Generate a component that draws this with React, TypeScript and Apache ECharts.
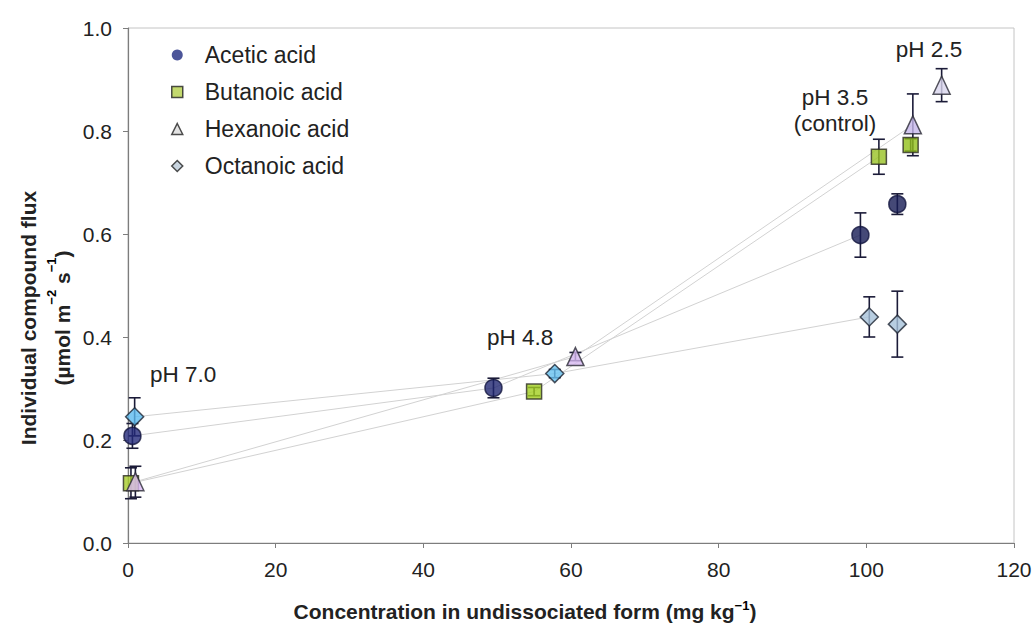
import React, { useEffect, useRef } from "react";
import * as echarts from "echarts";

const FONT = "'Liberation Sans', Arial, Helvetica, sans-serif";
const TEXT = "#222222";

// Measurements in pH order: 7.0, 4.8, 3.5 (control), 2.5
const aceticX = [0.6, 49.5, 99.2, 104.2];
const aceticY = [0.208, 0.301, 0.598, 0.658];
const aceticErr = [0.024, 0.019, 0.043, 0.02];

const butanoicX = [0.4, 55.0, 101.7, 106.0];
const butanoicY = [0.116, 0.294, 0.75, 0.773];
const butanoicErr = [0.03, 0.008, 0.034, 0.012];

const hexanoicX = [1.0, 60.6, 106.3, 110.2];
const hexanoicY = [0.119, 0.362, 0.812, 0.889];
const hexanoicErr = [0.03, 0.008, 0.06, 0.032];

const octanoicX = [0.9, 57.8, 100.4, 104.2];
const octanoicY = [0.245, 0.329, 0.439, 0.425];
const octanoicErr = [0.037, 0.008, 0.039, 0.064];

const acidNames = ["Acetic acid", "Butanoic acid", "Hexanoic acid", "Octanoic acid"];
const phLabels = ["pH 7.0", "pH 4.8", "pH 3.5", "pH 2.5"];

// marker styling per acid (fill per pH level)
const acids = [
  {
    name: acidNames[0], x: aceticX, y: aceticY, err: aceticErr,
    symbol: "circle", size: 17,
    fills: ["#23297a", "#1f2570", "#161b55", "#161b55"], border: "#11143d",
    legend: { color: "#1f2a80", borderColor: "#1f2a80", borderWidth: 0 },
  },
  {
    name: acidNames[1], x: butanoicX, y: butanoicY, err: butanoicErr,
    symbol: "rect", size: 15,
    fills: ["#a8cc2a", "#a3cf1f", "#98c224", "#92c01a"], border: "#2b2b22",
    legend: { color: "#b4cf4a", borderColor: "#222", borderWidth: 1.5 },
  },
  {
    name: acidNames[2], x: hexanoicX, y: hexanoicY, err: hexanoicErr,
    symbol: "triangle", size: [17, 18],
    fills: ["#dab8f2", "#d6b8f0", "#c6b6ea", "#d8d4ec"], border: "#2a2a36",
    legend: { color: "#dcdcdc", borderColor: "#222", borderWidth: 1.5 },
  },
  {
    name: acidNames[3], x: octanoicX, y: octanoicY, err: octanoicErr,
    symbol: "diamond", size: 18,
    fills: ["#5dbcf0", "#68c2f0", "#a6c2da", "#a6c2da"], border: "#1e2633",
    legend: { color: "#bccbd8", borderColor: "#222", borderWidth: 1.5 },
  },
];

export default function App() {
  const ref = useRef<HTMLDivElement>(null);

  useEffect(() => {
    if (!ref.current) return;
    const chart = echarts.init(ref.current, null, { renderer: "svg" });

    const series: any[] = [];

    // connecting lines pH 7.0 -> 4.8 -> 3.5
    acids.forEach((a) => {
      series.push({
        name: a.name + " trend",
        type: "line",
        data: a.x.slice(0, 3).map((v, i) => [v, a.y[i]]),
        showSymbol: false,
        symbol: "none",
        silent: true,
        z: 1,
        lineStyle: { color: "#d2d2d2", width: 1 },
      });
    });

    // error bars
    acids.forEach((a) => {
      series.push({
        name: a.name + " error",
        type: "custom",
        silent: true,
        z: 2,
        encode: { x: 0, y: 1 },
        data: a.x.map((v, i) => [v, a.y[i], a.err[i]]),
        renderItem: (params: any, api: any) => {
          const x = api.value(0);
          const y = api.value(1);
          const e = api.value(2);
          const top = api.coord([x, y + e]);
          const bot = api.coord([x, y - e]);
          const w = 6;
          const style = { stroke: "#1b1b38", lineWidth: 1.6 };
          return {
            type: "group",
            children: [
              { type: "line", shape: { x1: top[0], y1: top[1], x2: bot[0], y2: bot[1] }, style },
              { type: "line", shape: { x1: top[0] - w, y1: top[1], x2: top[0] + w, y2: top[1] }, style },
              { type: "line", shape: { x1: bot[0] - w, y1: bot[1], x2: bot[0] + w, y2: bot[1] }, style },
            ],
          };
        },
      });
    });

    // markers
    acids.forEach((a) => {
      series.push({
        name: a.name,
        type: "scatter",
        symbol: a.symbol,
        symbolSize: a.size,
        z: 3,
        data: a.x.map((v, i) => ({
          value: [v, a.y[i]],
          itemStyle: { color: a.fills[i], borderColor: a.border, borderWidth: 1.5 },
        })),
        itemStyle: { color: a.fills[0], borderColor: a.border, borderWidth: 1.5 },
      });
    });

    const sup = { fontSize: 13, fontWeight: "bold", verticalAlign: "top", fontFamily: FONT, color: TEXT, lineHeight: 14 };
    const annot = { fontFamily: FONT, fontSize: 22.5, fill: TEXT };

    chart.setOption({
      animation: false,
      backgroundColor: "#ffffff",
      grid: {
        left: 128, right: 21, top: 28, bottom: 86,
        show: true, borderColor: "#c4c4c4", borderWidth: 1, backgroundColor: "#ffffff",
      },
      legend: {
        orient: "vertical",
        left: 166,
        top: 38,
        itemWidth: 11,
        itemHeight: 11,
        itemGap: 13,
        selectedMode: false,
        textStyle: { fontFamily: FONT, fontSize: 23, color: TEXT, lineHeight: 24, padding: [0, 0, 0, 17] },
        data: acids.map((a) => ({ name: a.name, icon: a.symbol, itemStyle: a.legend })),
      },
      xAxis: {
        type: "value",
        min: 0,
        max: 120,
        interval: 20,
        splitLine: { show: false },
        axisLine: { lineStyle: { color: "#7d7d7d", width: 1.2 } },
        axisTick: { show: true, length: 5, lineStyle: { color: "#7d7d7d" } },
        axisLabel: { fontFamily: FONT, fontSize: 21, color: TEXT, margin: 16 },
      },
      yAxis: {
        type: "value",
        min: 0,
        max: 1,
        interval: 0.2,
        splitLine: { show: false },
        axisLine: { show: true, lineStyle: { color: "#7d7d7d", width: 1.2 } },
        axisTick: { show: true, length: 5, lineStyle: { color: "#7d7d7d" } },
        axisLabel: {
          fontFamily: FONT, fontSize: 21, color: TEXT, margin: 16,
          formatter: (v: number) => v.toFixed(1),
        },
      },
      graphic: [
        { type: "text", left: 150, top: 363, style: { ...annot, text: phLabels[0] } },
        { type: "text", left: 487, top: 326, style: { ...annot, text: phLabels[1] } },
        {
          type: "text", x: 835, y: 110,
          style: { ...annot, text: phLabels[2] + "\n(control)", align: "center", verticalAlign: "middle", lineHeight: 26 },
        },
        {
          type: "text", x: 929, y: 49,
          style: { ...annot, text: phLabels[3], align: "center", verticalAlign: "middle" },
        },
        {
          type: "text", x: 525, y: 611,
          style: {
            text: "{b|Concentration in undissociated form (mg kg}{s|−1}{b|)}",
            align: "center", verticalAlign: "middle",
            rich: {
              b: { fontFamily: FONT, fontSize: 21, fontWeight: "bold", fill: TEXT, color: TEXT, lineHeight: 24 },
              s: sup,
            },
          },
        },
        {
          type: "text", x: 45, y: 318, rotation: Math.PI / 2,
          style: {
            text: "{b|Individual compound flux}\n{b|(µmol m}{s|−2}{b| s}{s|−1}{b|)}",
            align: "center", verticalAlign: "middle",
            rich: {
              b: { fontFamily: FONT, fontSize: 21, fontWeight: "bold", fill: TEXT, color: TEXT, lineHeight: 34, align: "center" },
              s: sup,
            },
          },
        },
      ],
      series,
    });

    return () => chart.dispose();
  }, []);

  return (
    <div
      ref={ref}
      style={{ position: "fixed", left: 0, top: 0, width: 1035, height: 629, background: "#ffffff" }}
    />
  );
}
